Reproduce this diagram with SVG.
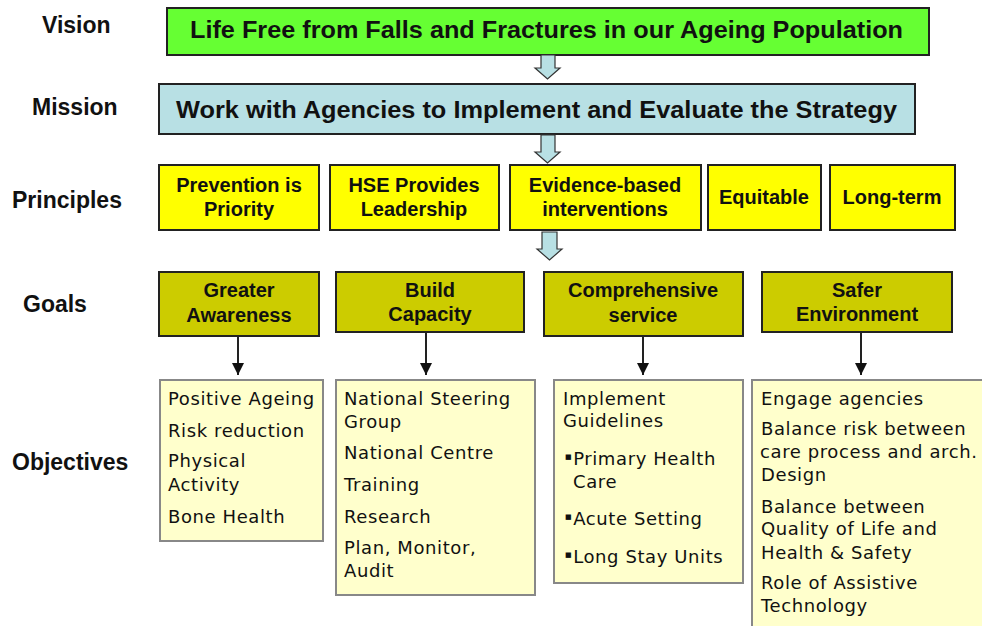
<svg xmlns="http://www.w3.org/2000/svg" width="982" height="626" viewBox="0 0 982 626">
<defs>
<style>
.lbl{font-family:"Liberation Sans",Arial,sans-serif;font-weight:bold;font-size:23px;fill:#111}
.hd{font-family:"Liberation Sans",Arial,sans-serif;font-weight:bold;font-size:24px;fill:#111}
.pr{font-family:"Liberation Sans",Arial,sans-serif;font-weight:bold;font-size:20px;fill:#111;text-anchor:middle}
.box{stroke:#222;stroke-width:2}
.obj{fill:#FFFFCC;stroke:#888;stroke-width:2}
.ot{font-family:"DejaVu Sans",Verdana,sans-serif;font-size:18px;letter-spacing:0.6px;fill:#111}
.bu{font-size:7px;letter-spacing:1.5px}
.blk{fill:#B8E0E4;stroke:#333;stroke-width:1.2}
.ln{stroke:#222;stroke-width:2;fill:none}
</style>
<marker id="ah" viewBox="0 0 10 10" refX="10" refY="5" markerWidth="13" markerHeight="12" markerUnits="userSpaceOnUse" orient="auto">
<path d="M0,0 L10,5 L0,10 Z" fill="#111"/>
</marker>
</defs>
<rect width="982" height="626" fill="#fff"/>

<g id="labels">
<text class="lbl" x="42" y="33">Vision</text>
<text class="lbl" x="32" y="115">Mission</text>
<text class="lbl" x="12" y="208">Principles</text>
<text class="lbl" x="23" y="312">Goals</text>
<text class="lbl" x="12" y="470">Objectives</text>
</g>

<g id="vision">
<rect class="box" x="167" y="8" width="762" height="47" fill="#66FF33"/>
<text class="hd" x="190" y="38" textLength="713" lengthAdjust="spacingAndGlyphs">Life Free from Falls and Fractures in our Ageing Population</text>
</g>

<g id="mission">
<rect class="box" x="159" y="84" width="756" height="50" fill="#B8E0E4"/>
<text class="hd" x="176" y="118" textLength="721" lengthAdjust="spacingAndGlyphs">Work with Agencies to Implement and Evaluate the Strategy</text>
</g>

<g id="p1">
<rect class="box" x="159" y="165" width="160" height="65" fill="#FFFF00"/>
<text class="pr" x="239" y="192">Prevention is</text>
<text class="pr" x="239" y="216">Priority</text>
</g>
<g id="p2">
<rect class="box" x="330" y="165" width="169" height="65" fill="#FFFF00"/>
<text class="pr" x="414" y="192">HSE Provides</text>
<text class="pr" x="414" y="216">Leadership</text>
</g>
<g id="p3">
<rect class="box" x="510" y="165" width="191" height="65" fill="#FFFF00"/>
<text class="pr" x="605" y="192">Evidence-based</text>
<text class="pr" x="605" y="216">interventions</text>
</g>
<g id="p4">
<rect class="box" x="708" y="165" width="113" height="65" fill="#FFFF00"/>
<text class="pr" x="764" y="204">Equitable</text>
</g>
<g id="p5">
<rect class="box" x="830" y="165" width="125" height="65" fill="#FFFF00"/>
<text class="pr" x="892" y="204">Long-term</text>
</g>

<g id="g1">
<rect class="box" x="159" y="272" width="160" height="64" fill="#CCCC00"/>
<text class="pr" x="239" y="297">Greater</text>
<text class="pr" x="239" y="322">Awareness</text>
</g>
<g id="g2">
<rect class="box" x="336" y="272" width="188" height="60" fill="#CCCC00"/>
<text class="pr" x="430" y="297">Build</text>
<text class="pr" x="430" y="321">Capacity</text>
</g>
<g id="g3">
<rect class="box" x="544" y="272" width="199" height="64" fill="#CCCC00"/>
<text class="pr" x="643" y="297">Comprehensive</text>
<text class="pr" x="643" y="322">service</text>
</g>
<g id="g4">
<rect class="box" x="762" y="272" width="190" height="60" fill="#CCCC00"/>
<text class="pr" x="857" y="297">Safer</text>
<text class="pr" x="857" y="321">Environment</text>
</g>

<g id="o1">
<rect class="obj" x="160" y="380" width="163" height="161"/>
<text class="ot" x="168" y="405">Positive Ageing</text>
<text class="ot" x="168" y="437">Risk reduction</text>
<text class="ot" x="168" y="467">Physical</text>
<text class="ot" x="168" y="491">Activity</text>
<text class="ot" x="168" y="523">Bone Health</text>
</g>
<g id="o2">
<rect class="obj" x="336" y="380" width="199" height="215"/>
<text class="ot" x="344" y="405">National Steering</text>
<text class="ot" x="344" y="428">Group</text>
<text class="ot" x="344" y="459">National Centre</text>
<text class="ot" x="344" y="491">Training</text>
<text class="ot" x="344" y="523">Research</text>
<text class="ot" x="344" y="554">Plan, Monitor,</text>
<text class="ot" x="344" y="577">Audit</text>
</g>
<g id="o3">
<rect class="obj" x="554" y="380" width="189" height="203"/>
<text class="ot" x="563" y="405">Implement</text>
<text class="ot" x="563" y="427">Guidelines</text>
<text class="ot" x="565" y="465"><tspan class="bu" dy="-6">■</tspan><tspan dy="6">Primary Health</tspan></text>
<text class="ot" x="573" y="488">Care</text>
<text class="ot" x="565" y="525"><tspan class="bu" dy="-6">■</tspan><tspan dy="6">Acute Setting</tspan></text>
<text class="ot" x="565" y="563"><tspan class="bu" dy="-6">■</tspan><tspan dy="6">Long Stay Units</tspan></text>
</g>
<g id="o4">
<rect class="obj" x="752" y="380" width="240" height="260"/>
<text class="ot" x="761" y="405">Engage agencies</text>
<text class="ot" x="761" y="435">Balance risk between</text>
<text class="ot" x="760" y="458">care process and arch.</text>
<text class="ot" x="761" y="481">Design</text>
<text class="ot" x="761" y="513">Balance between</text>
<text class="ot" x="761" y="535">Quality of Life and</text>
<text class="ot" x="761" y="559">Health &amp; Safety</text>
<text class="ot" x="761" y="589">Role of Assistive</text>
<text class="ot" x="761" y="612">Technology</text>
</g>

<g id="connectors">
<path class="blk" d="M541,55 L555,55 L555,68 L560,68 L547.5,79 L535,68 L541,68 Z"/>
<path class="blk" d="M541,135 L555,135 L555,152 L560,152 L547.5,163 L535,152 L541,152 Z"/>
<path class="blk" d="M542,232 L557,232 L557,249 L562,249 L549.5,260 L537,249 L542,249 Z"/>
<line class="ln" x1="238" y1="337" x2="238" y2="375" marker-end="url(#ah)"/>
<line class="ln" x1="426" y1="333" x2="426" y2="375" marker-end="url(#ah)"/>
<line class="ln" x1="643" y1="337" x2="643" y2="375" marker-end="url(#ah)"/>
<line class="ln" x1="861" y1="333" x2="861" y2="375" marker-end="url(#ah)"/>
</g>
</svg>
